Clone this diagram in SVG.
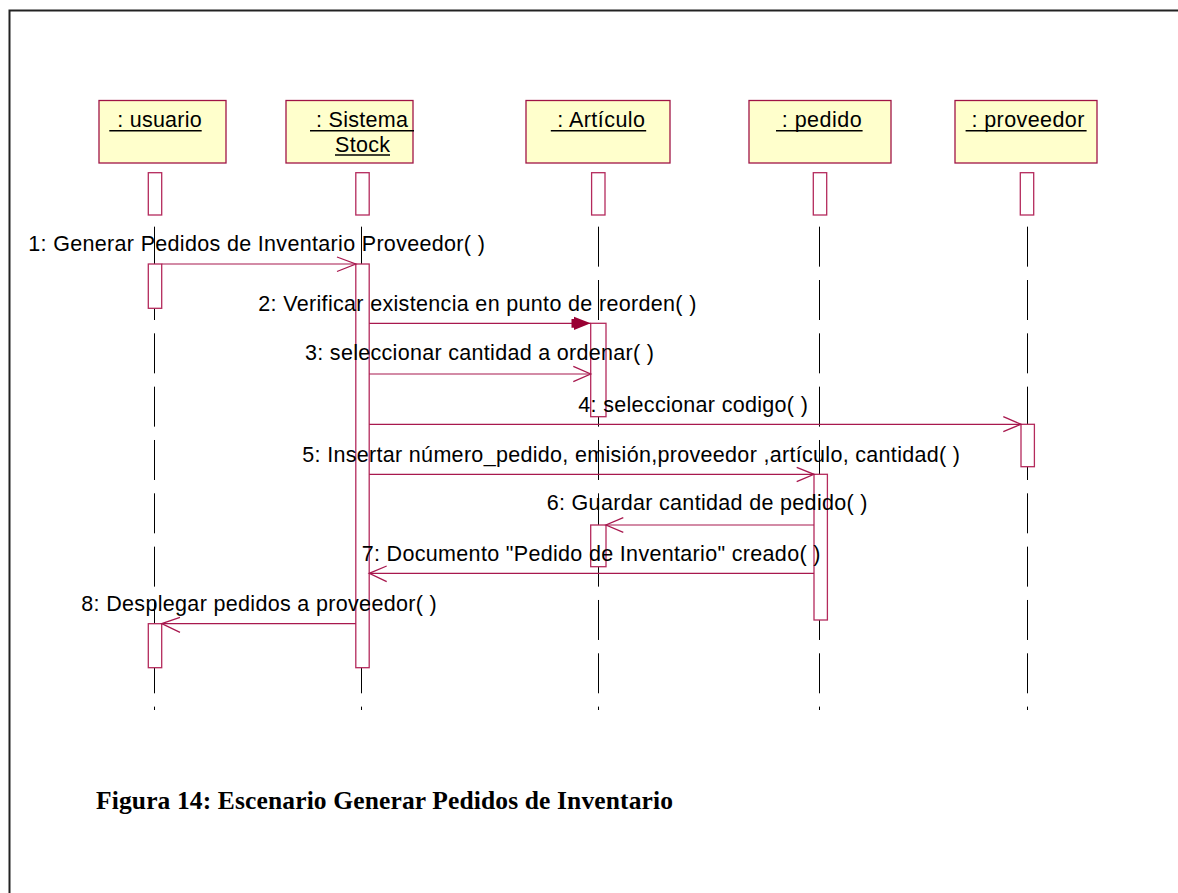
<svg xmlns="http://www.w3.org/2000/svg" width="1178" height="893" viewBox="0 0 1178 893">
  <style>
    .frame { fill: none; stroke: #222; stroke-width: 2; }
    .head { fill: #FFFFCC; stroke: #A01446; stroke-width: 1.3; }
    .act { fill: #FFFFFF; stroke: #B42A5C; stroke-width: 1.3; }
    .life { stroke: #000; stroke-width: 1; stroke-dasharray: 40 13.33; fill: none; }
    .uline { stroke: #000; stroke-width: 1.4; }
    .lbl { font-family: "Liberation Sans", Arial, sans-serif; font-size: 21.5px; fill: #000; }
    .msg { stroke: #A8184E; stroke-width: 1.2; fill: none; }
    .open { stroke: #A8184E; stroke-width: 1.3; fill: none; }
    .solid { fill: #990033; stroke: none; }
    .cap { font-family: "Liberation Serif", "Times New Roman", serif; font-size: 25.5px; font-weight: bold; fill: #000; }
  </style>

  <rect width="1178" height="893" fill="#FFFFFF"/>
  <path class="frame" d="M 9.5 893 V 10.5 H 1178"/>

  <!-- object lifelines -->
  <g id="usuario">
    <rect class="head" x="99" y="100.5" width="127" height="62.5"/>
    <text class="lbl" x="117.3" y="126.7" textLength="84.4">: usuario</text>
    <line class="uline" x1="109.3" y1="130.7" x2="201.7" y2="130.7"/>
    <rect class="act" x="148.3" y="172.7" width="13.4" height="42.3"/>
    <line class="life" x1="154.5" y1="226.67" x2="154.5" y2="710"/>
    <rect class="act" x="148.3" y="264" width="13.4" height="44.3"/>
    <rect class="act" x="148.3" y="623.7" width="13.4" height="44"/>
  </g>

  <g id="sistema-stock">
    <rect class="head" x="286" y="100.5" width="127" height="62.5"/>
    <text class="lbl" x="316" y="126.7" textLength="92">: Sistema</text>
    <line class="uline" x1="310" y1="130.7" x2="414" y2="130.7"/>
    <text class="lbl" x="335" y="151.7" textLength="55">Stock</text>
    <line class="uline" x1="335" y1="155" x2="390" y2="155"/>
    <rect class="act" x="355.8" y="172.7" width="13.4" height="42.3"/>
    <line class="life" x1="361.5" y1="226.67" x2="361.5" y2="710"/>
    <rect class="act" x="355.8" y="264" width="13.4" height="403.7"/>
  </g>

  <g id="articulo">
    <rect class="head" x="526" y="100.5" width="144" height="62.5"/>
    <text class="lbl" x="557.3" y="126.7" textLength="87.7">: Artículo</text>
    <line class="uline" x1="550.8" y1="130.7" x2="646.2" y2="130.7"/>
    <rect class="act" x="591.6" y="172.7" width="13.4" height="42.3"/>
    <line class="life" x1="598.5" y1="226.67" x2="598.5" y2="710"/>
    <rect class="act" x="590.7" y="323.3" width="15.3" height="93.4"/>
    <rect class="act" x="590.7" y="525" width="15.3" height="41.7"/>
  </g>

  <g id="pedido">
    <rect class="head" x="749" y="100.5" width="142" height="62.5"/>
    <text class="lbl" x="781.7" y="126.7" textLength="80">: pedido</text>
    <line class="uline" x1="776" y1="130.7" x2="862.6" y2="130.7"/>
    <rect class="act" x="813.3" y="172.7" width="13.4" height="42.3"/>
    <line class="life" x1="819.5" y1="226.67" x2="819.5" y2="710"/>
    <rect class="act" x="814" y="474.3" width="13.4" height="145.7"/>
  </g>

  <g id="proveedor">
    <rect class="head" x="955" y="100.5" width="142" height="62.5"/>
    <text class="lbl" x="971.4" y="126.7" textLength="113">: proveedor</text>
    <line class="uline" x1="965.6" y1="130.7" x2="1086.6" y2="130.7"/>
    <rect class="act" x="1020.3" y="172.7" width="13.4" height="42.3"/>
    <line class="life" x1="1027.5" y1="226.67" x2="1027.5" y2="710"/>
    <rect class="act" x="1021" y="424.3" width="13.4" height="42.4"/>
  </g>

  <!-- messages -->
  <g id="messages">
    <!-- 1 -->
    <line class="msg" x1="161.7" y1="264" x2="355.8" y2="264"/>
    <polyline class="open" points="337,257 355.8,264 337,271.5"/>
    <text class="lbl" x="28.3" y="251" textLength="456.5">1: Generar Pedidos de Inventario Proveedor( )</text>

    <!-- 2 (synchronous, solid head) -->
    <line class="msg" x1="369.2" y1="323.3" x2="590.7" y2="323.3"/>
    <polygon class="solid" points="571.5,319 574,319 574,316.8 590.7,323.3 574,330 574,327.8 571.5,327.8"/>
    <text class="lbl" x="258.3" y="310.5" textLength="438">2: Verificar existencia en punto de reorden( )</text>

    <!-- 3 -->
    <line class="msg" x1="369.2" y1="374" x2="590.7" y2="374"/>
    <polyline class="open" points="573.3,366.3 590.7,374 573.3,381.7"/>
    <text class="lbl" x="305" y="360" textLength="349">3: seleccionar cantidad a ordenar( )</text>

    <!-- 4 -->
    <line class="msg" x1="369.2" y1="424.3" x2="1021" y2="424.3"/>
    <polyline class="open" points="1003.3,416.7 1021,424.3 1003.3,431.7"/>
    <text class="lbl" x="578.3" y="411.7" textLength="229.5">4: seleccionar codigo( )</text>

    <!-- 5 -->
    <line class="msg" x1="369.2" y1="474.3" x2="814" y2="474.3"/>
    <polyline class="open" points="796.7,467.3 814,474.3 796.7,481.7"/>
    <text class="lbl" x="302.3" y="461.7" textLength="657.7">5: Insertar número_pedido, emisión,proveedor ,artículo, cantidad( )</text>

    <!-- 6 -->
    <line class="msg" x1="814" y1="525" x2="606" y2="525"/>
    <polyline class="open" points="623.3,517.7 606,525 623.3,532.3"/>
    <text class="lbl" x="546.7" y="510" textLength="320.8">6: Guardar cantidad de pedido( )</text>

    <!-- 7 -->
    <line class="msg" x1="814" y1="573.3" x2="369.2" y2="573.3"/>
    <polyline class="open" points="386.7,566 369.2,573.3 386.7,581.7"/>
    <text class="lbl" x="361.7" y="560.7" textLength="458.7">7: Documento "Pedido de Inventario" creado( )</text>

    <!-- 8 -->
    <line class="msg" x1="355.8" y1="623.7" x2="161.7" y2="623.7"/>
    <polyline class="open" points="180,617.3 161.7,623.7 180,632.3"/>
    <text class="lbl" x="81.3" y="610.7" textLength="355.4">8: Desplegar pedidos a proveedor( )</text>
  </g>

  <text class="cap" x="96" y="809" textLength="577">Figura 14: Escenario Generar Pedidos de Inventario</text>
</svg>
